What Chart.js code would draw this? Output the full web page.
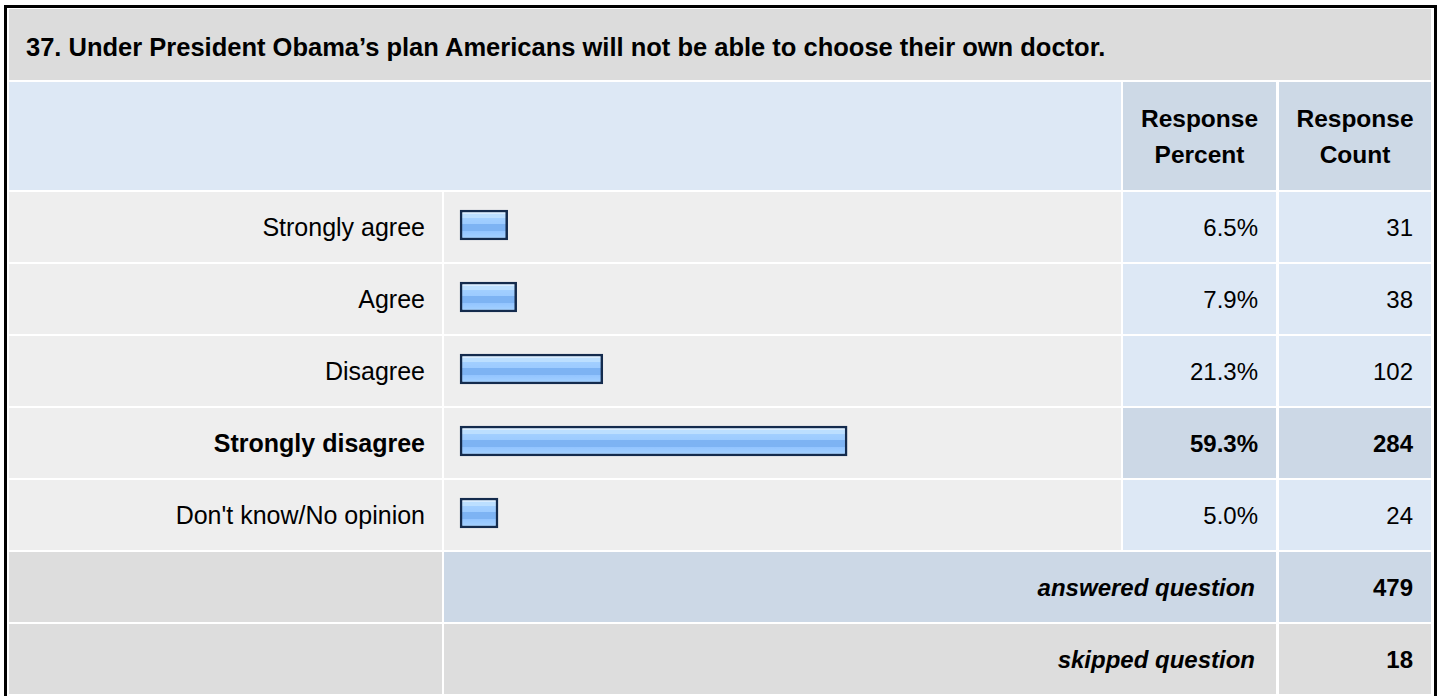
<!DOCTYPE html>
<html>
<head>
<meta charset="utf-8">
<script src="https://cdn.jsdelivr.net/npm/chart.js@4.4.0/dist/chart.umd.min.js"></script>
<style>
    body { margin: 0; background: #fff; font-family: "Liberation Sans", Arial, sans-serif; color: #000; overflow: hidden; }
    #frame { position: absolute; left: 4px; top: 5px; width: 1427px; height: 700px; border: 3px solid #000; }
    .cell { position: absolute; display: flex; align-items: center; box-sizing: border-box; font-size: 24px; white-space: nowrap; }
    .right { justify-content: flex-end; }
    .center { justify-content: center; text-align: center; }
    #chartBox { position: absolute; left: 444px; top: 189px; width: 677px; height: 360px; }
</style>
</head>
<body>
<div id="frame"></div>
<div id="table"></div>
<div id="chartBox"><canvas id="chart" width="677" height="360"></canvas></div>

<script>
// данные опроса
const questionTitle = "37. Under President Obama’s plan Americans will not be able to choose their own doctor.";
const answers = ["Strongly agree", "Agree", "Disagree", "Strongly disagree", "Don't know/No opinion"];
const percents = [6.5, 7.9, 21.3, 59.3, 5.0];
const counts = [31, 38, 102, 284, 24];
const headerLabels = ["Response<br>Percent", "Response<br>Count"];
const summaryLabels = ["answered question", "skipped question"];
const summaryCounts = [479, 18];

// колонки таблицы
const colLabel = { x: 9, w: 433 };
const colBar = { x: 444, w: 677 };
const colPct = { x: 1123, w: 153 };
const colCnt = { x: 1279, w: 152 };
const rowTop = 192, rowStep = 72, rowH = 70;

const table = document.getElementById('table');

function addCell(x, y, w, h, bg, html, cls, css) {
    let d = document.createElement('div');
    d.className = 'cell ' + (cls || '');
    d.style.left = x + 'px';
    d.style.top = y + 'px';
    d.style.width = w + 'px';
    d.style.height = h + 'px';
    d.style.background = bg;
    if (css) d.style.cssText += css;
    d.innerHTML = html || '';
    table.appendChild(d);
    return d;
}

// заголовок вопроса
addCell(9, 9, 1422, 71, '#dcdcdc', questionTitle, '', 'font-weight:bold;font-size:25.5px;padding-left:17px;padding-top:6px;');

// шапка
addCell(9, 82, 1112, 108, '#dde8f5');
addCell(colPct.x, 82, colPct.w, 108, '#cdd9e6', headerLabels[0], 'center', 'font-weight:bold;line-height:36px;font-size:24.5px;padding-top:2px;');
addCell(colCnt.x, 82, colCnt.w, 108, '#cdd9e6', headerLabels[1], 'center', 'font-weight:bold;line-height:36px;font-size:24.5px;padding-top:2px;');

// строки ответов, максимальная выделена
const maxIdx = percents.indexOf(Math.max(...percents));
answers.forEach((a, i) => {
    let y = rowTop + i * rowStep;
    let top = i === maxIdx;
    let bold = top ? 'font-weight:bold;' : '';
    let valBg = top ? '#ccd8e6' : '#dde8f5';
    addCell(colLabel.x, y, colLabel.w, rowH, '#eeeeee', a, 'right', bold + 'font-size:25px;padding-right:17px;padding-top:1px;');
    addCell(colBar.x, y, colBar.w, rowH, '#eeeeee');
    addCell(colPct.x, y, colPct.w, rowH, valBg, percents[i].toFixed(1) + '%', 'right', bold + 'padding-right:18px;padding-top:1px;');
    addCell(colCnt.x, y, colCnt.w, rowH, valBg, counts[i], 'right', bold + 'padding-right:18px;padding-top:1px;');
});

// итоговые строки
summaryLabels.forEach((s, i) => {
    let y = rowTop + answers.length * rowStep + i * rowStep;
    let bg = i === 0 ? '#ccd8e6' : '#dddddd';
    addCell(colLabel.x, y, colLabel.w, rowH, '#dddddd');
    addCell(colBar.x, y, colPct.x + colPct.w - colBar.x, rowH, bg, s, 'right', 'font-weight:bold;font-style:italic;padding-right:21px;padding-top:1px;');
    addCell(colCnt.x, y, colCnt.w, rowH, bg, summaryCounts[i], 'right', 'font-weight:bold;padding-right:18px;padding-top:1px;');
});

// градиент полоски как в SurveyMonkey
function barGradient(context) {
    const chart = context.chart;
    const yScale = chart.scales.y;
    const c = yScale ? yScale.getPixelForValue(context.dataIndex) : NaN;
    if (!isFinite(c)) return '#9ccbff';
    const g = chart.ctx.createLinearGradient(0, c - 15, 0, c + 15);
    g.addColorStop(0, '#d8ecff');
    g.addColorStop(0.14, '#d8ecff');
    g.addColorStop(0.14, '#bcdfff');
    g.addColorStop(0.27, '#bcdfff');
    g.addColorStop(0.27, '#a2cfff');
    g.addColorStop(0.47, '#9ccbff');
    g.addColorStop(0.47, '#7db3f3');
    g.addColorStop(0.7, '#7db3f3');
    g.addColorStop(0.7, '#92c4ff');
    g.addColorStop(1, '#a8d4ff');
    return g;
}

const ctx = document.getElementById('chart').getContext('2d');
const myChart = new Chart(ctx, {
    type: 'bar',
    data: {
        labels: answers,
        datasets: [{
            data: percents,
            base: -0.9,
            backgroundColor: barGradient,
            borderColor: '#142b4d',
            borderWidth: 2.5,
            borderSkipped: false,
            barThickness: 30
        }]
    },
    options: {
        indexAxis: 'y',
        responsive: false,
        animation: false,
        devicePixelRatio: 1,
        layout: { padding: 0 },
        plugins: { legend: { display: false }, tooltip: { enabled: false } },
        scales: {
            x: { type: 'linear', min: -3.4, max: 101.9, display: false },
            y: { display: false }
        }
    }
});
myChart.update();
</script>
</body>
</html>
